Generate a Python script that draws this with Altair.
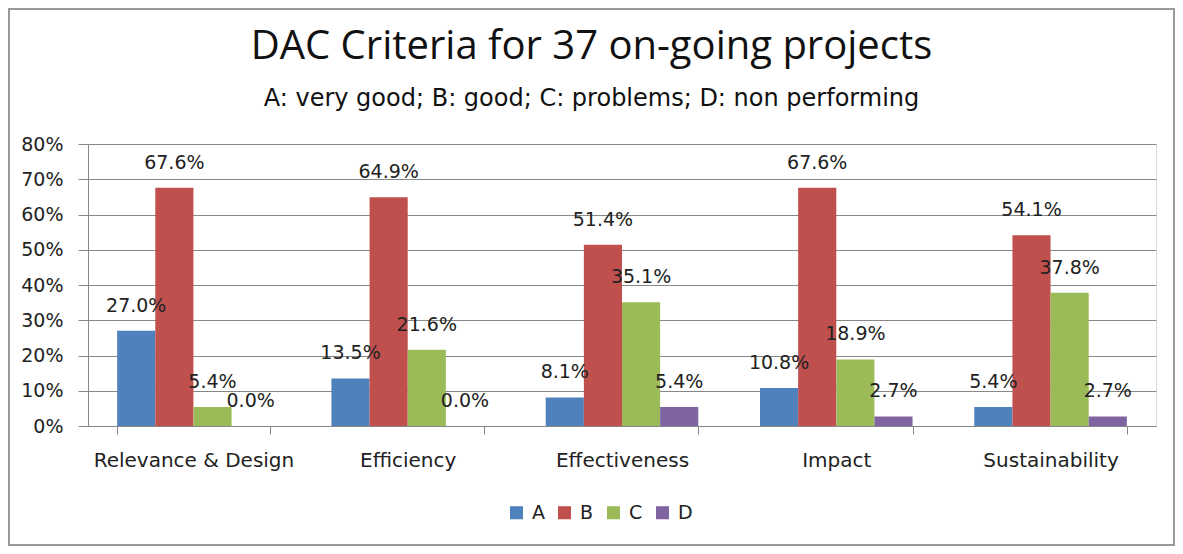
import altair as alt
import pandas as pd

categories = ["Relevance & Design", "Efficiency", "Effectiveness", "Impact", "Sustainability"]
series = ["A", "B", "C", "D"]
values_A = [0.270, 0.135, 0.081, 0.108, 0.054]
values_B = [0.676, 0.649, 0.514, 0.676, 0.541]
values_C = [0.054, 0.216, 0.351, 0.189, 0.378]
values_D = [0.000, 0.000, 0.054, 0.027, 0.027]
colors = ["#4F81BD", "#C0504D", "#9BBB59", "#8064A2"]

rows = []
for s, vals in zip(series, [values_A, values_B, values_C, values_D]):
    for c, v in zip(categories, vals):
        rows.append({"criterion": c, "rating": s, "value": v})
df = pd.DataFrame(rows)

font = "DejaVu Sans"
tfont = "Open Sans"
txt = "#222222"

x = alt.X("criterion:N", sort=categories, title=None,
          scale=alt.Scale(paddingInner=0.288, paddingOuter=0.136),
          axis=alt.Axis(labelAngle=0, labelFontSize=20, labelColor=txt, labelPadding=16,
                        labelLimit=0, tickColor="#888", tickSize=8, domainColor="#888",
                        labelFont=font, tickBand="extent", grid=False))
y = alt.Y("value:Q", title=None,
          scale=alt.Scale(domain=[0, 0.8]),
          axis=alt.Axis(format=".0%", values=[0, .1, .2, .3, .4, .5, .6, .7, .8], labelFontSize=19,
                        labelColor=txt, labelFont=font, tickColor="#888", tickSize=10,
                        domainColor="#888", gridColor="#888", labelPadding=15))

base = alt.Chart(df).encode(
    x=x, y=y,
    xOffset=alt.XOffset("rating:N", sort=series),
)

bars = base.mark_bar().encode(
    color=alt.Color("rating:N", sort=series, scale=alt.Scale(domain=series, range=colors),
                    legend=alt.Legend(title=None, orient="none", legendX=419, legendY=359,
                                      direction="horizontal",
                                      symbolType="square", symbolSize=170, labelFontSize=19,
                                      labelFont=font, labelColor=txt, columnPadding=10,
                                      labelOffset=6, symbolStrokeWidth=0))
)

labels = base.mark_text(baseline="alphabetic", dy=-19, fontSize=19, font=font, color=txt).encode(
    text=alt.Text("value:Q", format=".1%")
)

frame = alt.Chart(alt.Data(values=[{"f": 1}])).mark_rect(
    fill=None, stroke="#9a9a9a", strokeWidth=2, clip=False
).encode(x=alt.value(-79), x2=alt.value(1086), y=alt.value(-135), y2=alt.value(401))

chart = alt.layer(frame, bars, labels).properties(
    width=1068, height=282,
    autosize=alt.AutoSizeParams(type="none"),
    padding={"left": 80, "top": 136, "right": 19, "bottom": 120},
    title=alt.TitleParams(
        text="DAC Criteria for 37 on-going projects",
        subtitle="A: very good; B: good; C: problems; D: non performing",
        fontSize=40, font=tfont, fontWeight="normal", color="#111",
        subtitleFontSize=24, subtitleFont=font, subtitleColor="#111", subtitlePadding=20,
        anchor="middle", frame="bounds", offset=0, dy=103,
    ),
).configure_view(stroke=None).configure(background="white")

chart.save("out.html", embed_options={"renderer": "svg", "actions": False})
